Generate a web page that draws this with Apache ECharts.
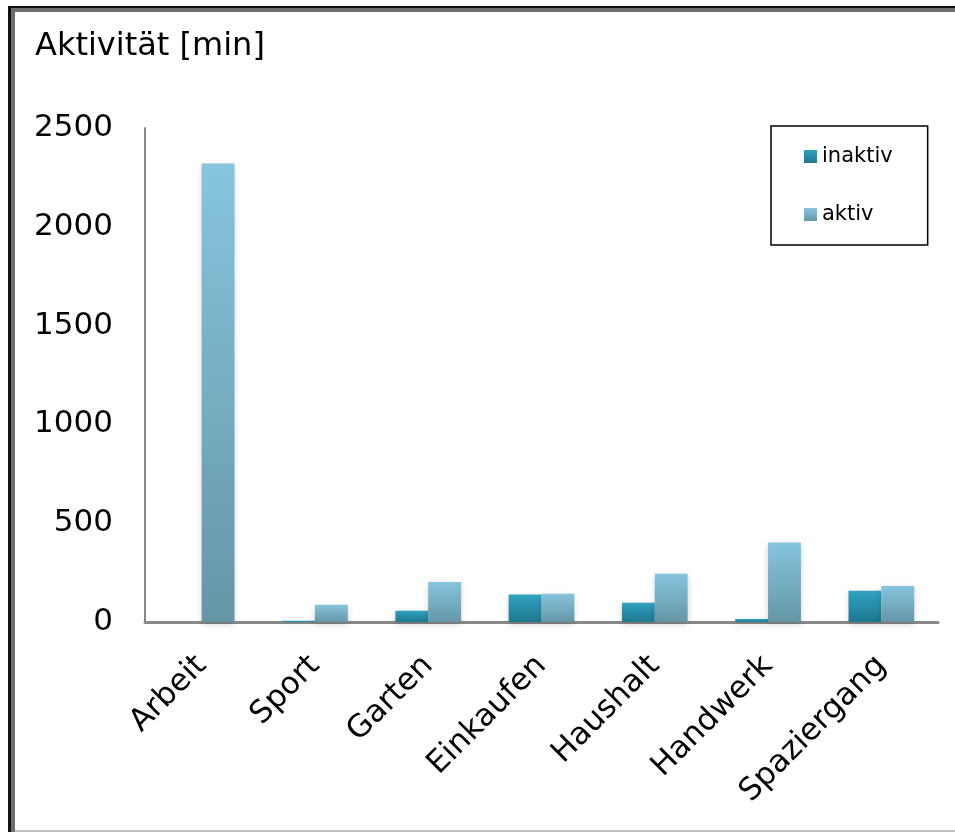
<!DOCTYPE html>
<html>
<head>
<meta charset="utf-8">
<script src="https://cdn.jsdelivr.net/npm/echarts@6/dist/echarts.min.js"></script>
<style>
  html, body { margin: 0; padding: 0; background: #fff; }
  #chart { width: 955px; height: 832px; }
</style>
</head>
<body>
<div id="chart"></div>
<script>
// Minutes spent per activity type, split by group
const categories = ['Arbeit', 'Sport', 'Garten', 'Einkaufen', 'Haushalt', 'Handwerk', 'Spaziergang'];
const inaktiv = [0, 6, 57, 139, 97, 15, 158];
const aktiv = [2320, 87, 203, 143, 244, 402, 182];
const yTicks = [0, 500, 1000, 1500, 2000, 2500];

const FONT = 'DejaVu Sans';

function grad(top, bottom) {
  return new echarts.graphic.LinearGradient(0, 0, 0, 1, [
    { offset: 0, color: top },
    { offset: 1, color: bottom }
  ]);
}

const chart = echarts.init(document.getElementById('chart'), null, { renderer: 'canvas' });

chart.setOption({
  animation: false,
  backgroundColor: '#ffffff',
  title: {
    text: 'Aktivität [min]',
    left: 30,
    top: 26,
    textStyle: { fontFamily: FONT, fontSize: 32, fontWeight: 'normal', color: '#000' }
  },
  legend: {
    data: ['inaktiv', 'aktiv'],
    orient: 'vertical',
    left: 771,
    top: 126,
    padding: [20, 35, 20, 33],
    itemGap: 37,
    itemWidth: 13,
    itemHeight: 13,
    icon: 'rect',
    borderColor: '#000',
    borderWidth: 1.5,
    textStyle: { fontFamily: FONT, fontSize: 21, color: '#000' }
  },
  grid: { left: 145, right: 17, top: 128, bottom: 210, containLabel: false },
  xAxis: {
    type: 'category',
    data: categories,
    axisLine: { lineStyle: { color: '#888', width: 3 } },
    axisTick: { show: false },
    axisLabel: {
      rotate: 45,
      margin: 39,
      interval: 0,
      fontFamily: FONT,
      fontSize: 31,
      color: '#000'
    }
  },
  yAxis: {
    type: 'value',
    min: 0,
    max: 2500,
    interval: 500,
    axisLine: { show: true, lineStyle: { color: '#888', width: 2 } },
    axisTick: { show: false },
    splitLine: { show: false },
    axisLabel: {
      margin: 32,
      fontFamily: FONT,
      fontSize: 31,
      color: '#000',
      customValues: yTicks,
      formatter: v => String(v)
    }
  },
  series: [
    {
      name: 'inaktiv',
      type: 'bar',
      data: inaktiv,
      barGap: '0%',
      barCategoryGap: '42%',
      itemStyle: {
        color: grad('#2fa2c1', '#1f7890'),
        shadowBlur: 6,
        shadowColor: 'rgba(0,0,0,0.18)',
        shadowOffsetY: 2
      }
    },
    {
      name: 'aktiv',
      type: 'bar',
      data: aktiv,
      barGap: '0%',
      barCategoryGap: '42%',
      itemStyle: {
        color: grad('#86c5de', '#6596a6'),
        shadowBlur: 6,
        shadowColor: 'rgba(0,0,0,0.18)',
        shadowOffsetY: 2
      }
    }
  ],
  graphic: [
    // window-like frame: dark outer edge with a grey inner band
    { type: 'rect', shape: { x: 8, y: 6, width: 947, height: 2 }, style: { fill: '#111' }, silent: true },
    { type: 'rect', shape: { x: 8, y: 8, width: 947, height: 4 }, style: { fill: '#6e6e6e' }, silent: true },
    { type: 'rect', shape: { x: 8, y: 6, width: 3, height: 826 }, style: { fill: '#111' }, silent: true },
    { type: 'rect', shape: { x: 11, y: 8, width: 4, height: 824 }, style: { fill: '#6e6e6e' }, silent: true },
    { type: 'rect', shape: { x: 15, y: 830, width: 940, height: 2 }, style: { fill: '#c0c0c0' }, silent: true }
  ]
});
</script>
</body>
</html>
